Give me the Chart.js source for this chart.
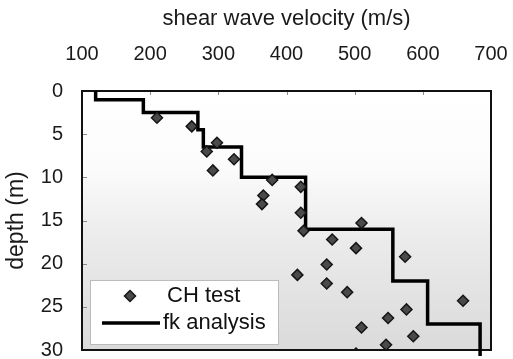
<!DOCTYPE html>
<html>
<head>
<meta charset="utf-8">
<script src="https://cdn.jsdelivr.net/npm/chart.js@4.4.1/dist/chart.umd.min.js"></script>
<style>
html, body { margin: 0; padding: 0; background: #fff; }
#wrap { width: 513px; height: 359px; }
</style>
</head>
<body>
<div id="wrap"><canvas id="vsChart" width="513" height="359"></canvas></div>
<script>
// CH test (crosshole) measurements
var chVs    = [210, 261, 298, 283, 323, 292, 379, 421, 366, 364, 421, 510, 425, 467, 502, 574, 459, 416, 459, 489, 659, 576, 549, 510, 586, 546, 502];
var chDepth = [3.1, 4.1, 6.0, 7.0, 7.9, 9.2, 10.3, 11.1, 12.1, 13.1, 14.1, 15.3, 16.2, 17.2, 18.2, 19.2, 20.1, 21.3, 22.3, 23.3, 24.3, 25.3, 26.3, 27.4, 28.4, 29.4, 30.4];

// fk analysis layers: velocity of each layer and depth of its top (last entry = bottom)
var fkVs    = [120, 190, 270, 278, 334, 428, 556, 607, 684, 684];
var fkDepth = [0, 1, 2.5, 4.5, 6.5, 10, 16, 22, 27, 30.7];

var velocityTicks = [100, 200, 300, 400, 500, 600, 700];
var depthTicks    = [0, 5, 10, 15, 20, 25, 30];

var fontFam = "'Liberation Sans', Arial, Helvetica, sans-serif";

function toPoints(xs, ys) {
    var pts = [];
    for (var i = 0; i < xs.length; i++) {
        pts.push({x: xs[i], y: ys[i]});
    }
    return pts;
}

function noPad(scale) {
    scale.paddingLeft = 0;
    scale.paddingRight = 0;
    scale.paddingTop = 0;
    scale.paddingBottom = 0;
}

/* fondo, marco y marcas de los ejes */
var framePlugin = {
    id: 'frame',
    beforeDatasetsDraw: function(chart) {
        var ctx = chart.ctx, ca = chart.chartArea;
        var g = ctx.createLinearGradient(0, ca.top, 0, ca.bottom);
        g.addColorStop(0, '#ffffff');
        g.addColorStop(0.3, '#fbfbfb');
        g.addColorStop(0.55, '#ececec');
        g.addColorStop(1, '#dadada');
        ctx.save();
        ctx.fillStyle = g;
        ctx.fillRect(ca.left, ca.top, ca.right - ca.left, ca.bottom - ca.top);

        ctx.strokeStyle = '#8a8a8a';
        ctx.lineWidth = 1;
        var xs = chart.scales.x, ys = chart.scales.y;
        velocityTicks.forEach(function(v) {
            var px = Math.round(xs.getPixelForValue(v)) + 0.5;
            ctx.beginPath(); ctx.moveTo(px, ca.top); ctx.lineTo(px, ca.top + 4); ctx.stroke();
        });
        depthTicks.forEach(function(d) {
            var py = Math.round(ys.getPixelForValue(d)) + 0.5;
            ctx.beginPath(); ctx.moveTo(ca.left, py); ctx.lineTo(ca.left + 5, py); ctx.stroke();
        });

        ctx.strokeStyle = '#111';
        ctx.lineWidth = 2;
        ctx.strokeRect(ca.left, ca.top, ca.right - ca.left, ca.bottom - ca.top);
        ctx.restore();
    }
};

/* leyenda dentro del area */
var legendPlugin = {
    id: 'innerLegend',
    afterDraw: function(chart) {
        var ctx = chart.ctx, ca = chart.chartArea;
        var bx = ca.left + 8, by = ca.bottom - 70, bw = 188, bh = 64;
        ctx.save();
        ctx.fillStyle = '#ffffff';
        ctx.fillRect(bx, by, bw, bh);
        ctx.strokeStyle = '#bbbbbb';
        ctx.lineWidth = 1;
        ctx.strokeRect(bx + 0.5, by + 0.5, bw, bh);

        var ds0 = chart.data.datasets[0];
        var cx = bx + 40, cy = by + 16;
        ctx.fillStyle = ds0.backgroundColor;
        ctx.strokeStyle = ds0.borderColor;
        ctx.lineWidth = ds0.borderWidth;
        ctx.beginPath();
        ctx.moveTo(cx, cy - 5.5); ctx.lineTo(cx + 5.5, cy); ctx.lineTo(cx, cy + 5.5); ctx.lineTo(cx - 5.5, cy);
        ctx.closePath(); ctx.fill(); ctx.stroke();

        ctx.fillStyle = '#111';
        ctx.font = '22px ' + fontFam;
        ctx.textBaseline = 'middle';
        ctx.fillText(chart.data.datasets[0].label, bx + 77, cy);

        var ds1 = chart.data.datasets[1];
        var ly = by + 43;
        ctx.strokeStyle = ds1.borderColor;
        ctx.lineWidth = ds1.borderWidth;
        ctx.beginPath(); ctx.moveTo(bx + 12, ly); ctx.lineTo(bx + 70, ly); ctx.stroke();
        ctx.fillText(ds1.label, bx + 73, ly);
        ctx.restore();
    }
};

var ctxVs = document.getElementById('vsChart');

var vsChart = new Chart(ctxVs, {
    type: 'scatter',
    data: {
        datasets: [{
            label: 'CH test',
            data: toPoints(chVs, chDepth),
            pointStyle: 'rectRot',
            pointRadius: 5.5,
            backgroundColor: '#4a4a4a',
            borderColor: '#151515',
            borderWidth: 1.5,
            order: 1
        }, {
            label: 'fk analysis',
            type: 'line',
            data: toPoints(fkVs, fkDepth),
            stepped: 'after',
            borderColor: '#000',
            borderWidth: 3.5,
            pointRadius: 0,
            fill: false,
            clip: false,
            order: 2
        }]
    },
    options: {
        responsive: false,
        animation: false,
        layout: { padding: { top: 0, left: 0, right: 22, bottom: 9 } },
        plugins: {
            legend: { display: false },
            tooltip: { enabled: false }
        },
        scales: {
            x: {
                type: 'linear',
                position: 'top',
                min: 100,
                max: 700,
                afterBuildTicks: function(scale) {
                    scale.ticks = velocityTicks.map(function(v) { return {value: v}; });
                },
                afterFit: function(scale) { scale.height = 91; noPad(scale); },
                grid: { display: false, drawTicks: false },
                border: { display: false },
                ticks: { padding: 25, color: '#1a1a1a', font: { family: fontFam, size: 20 } },
                title: {
                    display: true,
                    text: 'shear wave velocity (m/s)',
                    color: '#1a1a1a',
                    padding: { top: 6, bottom: 0 },
                    font: { family: fontFam, size: 22 }
                }
            },
            y: {
                type: 'linear',
                reverse: true,
                min: 0,
                max: 30,
                afterBuildTicks: function(scale) {
                    scale.ticks = depthTicks.map(function(d) { return {value: d}; });
                },
                afterFit: function(scale) { scale.width = 82; noPad(scale); },
                grid: { display: false, drawTicks: false },
                border: { display: false },
                ticks: { padding: 19, color: '#1a1a1a', font: { family: fontFam, size: 20 } },
                title: {
                    display: true,
                    text: 'depth (m)',
                    color: '#1a1a1a',
                    padding: { top: 3, bottom: 0 },
                    font: { family: fontFam, size: 23 }
                }
            }
        }
    },
    plugins: [framePlugin, legendPlugin]
});
</script>
</body>
</html>
